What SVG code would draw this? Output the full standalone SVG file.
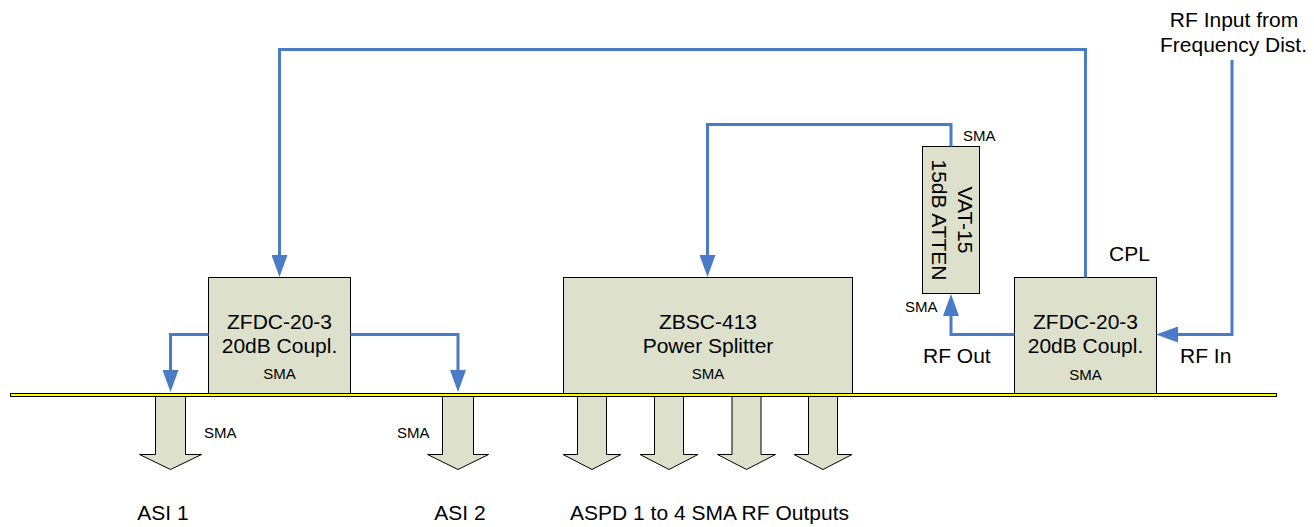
<svg xmlns="http://www.w3.org/2000/svg" width="1314" height="527" viewBox="0 0 1314 527">
<style>
text{font-family:"Liberation Sans",Arial,sans-serif;fill:#000}
.t{font-size:21px}
.s{font-size:15px}
.m{text-anchor:middle}
.box{fill:#dde1cb;stroke:#000;stroke-width:1}
.out{fill:#dde1cb;stroke:#000;stroke-width:1;stroke-linejoin:miter}
.w{fill:none;stroke:#4a7bc6;stroke-width:3;stroke-linejoin:miter}
</style>
<defs>
<marker id="ah" viewBox="0 0 22 16" refX="14" refY="8" markerWidth="22" markerHeight="16" markerUnits="userSpaceOnUse" orient="auto">
<path d="M0,0 L22,8 L0,16 Z" fill="#4a7bc6"/>
</marker>
</defs>

<g id="coupler-left">
<rect class="box" x="208.5" y="277.5" width="142" height="116"/>
<text class="t m" x="279.5" y="329">ZFDC-20-3</text>
<text class="t m" x="279.5" y="353">20dB Coupl.</text>
<text class="s m" x="279.5" y="379">SMA</text>
</g>

<g id="splitter">
<rect class="box" x="563.5" y="277.5" width="289" height="116"/>
<text class="t m" x="708" y="329">ZBSC-413</text>
<text class="t m" x="708" y="353">Power Splitter</text>
<text class="s m" x="708" y="379">SMA</text>
</g>

<g id="coupler-right">
<rect class="box" x="1014.5" y="277.5" width="142" height="116"/>
<text class="t m" x="1085.5" y="329">ZFDC-20-3</text>
<text class="t m" x="1085.5" y="353">20dB Coupl.</text>
<text class="s m" x="1085.5" y="380">SMA</text>
<text class="t" x="1109" y="261">CPL</text>
</g>

<g id="attenuator">
<rect class="box" x="922.5" y="146.5" width="57" height="147"/>
<text class="t m" x="958" y="220" transform="rotate(90 958 220)">VAT-15</text>
<text class="t m" x="932" y="220" transform="rotate(90 932 220)">15dB ATTEN</text>
<text class="s" x="963" y="141">SMA</text>
<text class="s" x="905" y="312">SMA</text>
</g>

<g id="bar">
<rect x="10.5" y="393.5" width="1266" height="3" fill="#ffff00" stroke="#000" stroke-width="1"/>
</g>

<g id="asi1">
<path class="out" d="M155.5,397 V454.5 H139.5 L170.5,469.5 L201.5,454.5 H185.5 V397"/>
<text class="s" x="204" y="438">SMA</text>
<text class="t m" x="163" y="520">ASI 1</text>
</g>

<g id="asi2">
<path class="out" d="M442.5,397 V454.5 H427.5 L458,469.5 L488.5,454.5 H473.5 V397"/>
<text class="s" x="397" y="438">SMA</text>
<text class="t m" x="460" y="520">ASI 2</text>
</g>

<g id="aspd">
<path class="out" d="M577.5,397 V454.5 H563 L592,469.5 L621,454.5 H606.5 V397"/>
<path class="out" d="M654.5,397 V454.5 H640 L669,469.5 L698,454.5 H683.5 V397"/>
<path class="out" d="M732,397 V454.5 H717.5 L746.5,469.5 L775.5,454.5 H761 V397"/>
<path class="out" d="M808.5,397 V454.5 H794 L823,469.5 L852,454.5 H837.5 V397"/>
<text class="t m" x="709.5" y="520">ASPD 1 to 4 SMA RF Outputs</text>
</g>

<g id="rf-input-label">
<text class="t m" x="1234" y="27">RF Input from</text>
<text class="t m" x="1233.5" y="52">Frequency Dist.</text>
<text class="t" x="923" y="363">RF Out</text>
<text class="t" x="1180" y="363">RF In</text>
</g>

<g id="connectors">
<path class="w" d="M208.5,334.5 H170.5 V384" marker-end="url(#ah)"/>
<path class="w" d="M350.5,334.5 H458 V384" marker-end="url(#ah)"/>
<path class="w" d="M1085.5,277.5 V49.5 H279.5 V269" marker-end="url(#ah)"/>
<path class="w" d="M951,146.5 V124.5 H707.5 V269" marker-end="url(#ah)"/>
<path class="w" d="M1232,60 V334.5 H1164" marker-end="url(#ah)"/>
<path class="w" d="M1014.5,334.5 H951 V302" marker-end="url(#ah)"/>
</g>
</svg>
